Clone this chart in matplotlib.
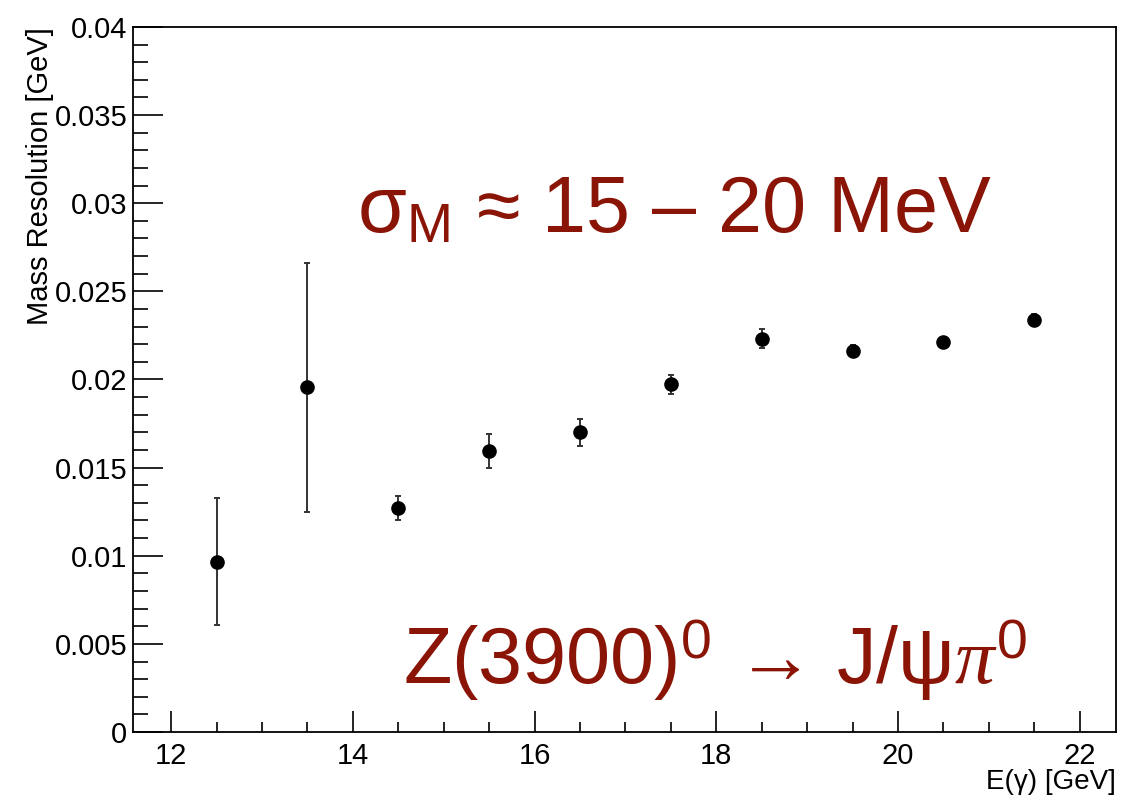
import matplotlib.pyplot as plt
from matplotlib.ticker import MultipleLocator

# data
e_gamma = [12.5, 13.5, 14.5, 15.5, 16.5, 17.5, 18.5, 19.5, 20.5, 21.5]
mass_res = [0.00963, 0.01955, 0.01269, 0.01592, 0.01700, 0.01972, 0.02232, 0.02164, 0.02215, 0.02340]
err_up = [0.00363, 0.00708, 0.00068, 0.00096, 0.00073, 0.00056, 0.00057, 0.00034, 0.00010, 0.00034]
err_dn = [0.00357, 0.00709, 0.00068, 0.00096, 0.00080, 0.00057, 0.00056, 0.00034, 0.00010, 0.00034]

x_ticks = [12, 14, 16, 18, 20, 22]
y_ticks = [0, 0.005, 0.01, 0.015, 0.02, 0.025, 0.03, 0.035, 0.04]
y_ticklabels = ["0", "0.005", "0.01", "0.015", "0.02", "0.025", "0.03", "0.035", "0.04"]

RED = "#8a1406"

plt.rcParams["font.family"] = ["Liberation Sans", "DejaVu Sans"]
plt.rcParams["mathtext.fontset"] = "custom"
plt.rcParams["mathtext.it"] = "Liberation Serif:italic"
plt.rcParams["mathtext.rm"] = "Liberation Sans"

fig = plt.figure(figsize=(11.41, 7.98), dpi=100)
ax = fig.add_axes([0.1166, 0.0827, 0.8615, 0.8835])

ax.errorbar(e_gamma, mass_res, yerr=[err_dn, err_up], fmt="o", color="black",
            ms=9.5, elinewidth=1.4, ecolor="#333333", capsize=2.5, capthick=1.4)

ax.set_xlim(11.58, 22.4)
ax.set_ylim(0, 0.04)

ax.set_xticks(x_ticks)
ax.set_xticklabels([str(t) for t in x_ticks])
ax.set_yticks(y_ticks)
ax.set_yticklabels(y_ticklabels)
ax.xaxis.set_minor_locator(MultipleLocator(0.5))
ax.yaxis.set_minor_locator(MultipleLocator(0.001))

ax.tick_params(which="both", direction="in", top=False, right=False, width=1.2)
ax.tick_params(labelsize=21)
ax.tick_params(axis="x", which="major", length=15, pad=7)
ax.tick_params(axis="x", which="minor", length=7.5)
ax.tick_params(axis="y", which="major", length=21.5, pad=4)
ax.tick_params(axis="y", which="minor", length=11)

for s in ax.spines.values():
    s.set_linewidth(1.3)

ax.set_ylabel("Mass Resolution [GeV]", fontsize=21)
ax.yaxis.set_label_coords(-0.08, 1.0)
ax.yaxis.label.set_horizontalalignment("right")
ax.set_xlabel("E(\u03b3) [GeV]", fontsize=20)
ax.xaxis.set_label_coords(1.0, -0.052)
ax.xaxis.label.set_horizontalalignment("right")

ax.text(0.228, 0.738, "\u03c3$_{\\mathrm{M}}$ \u2248 15 \u2013 20 MeV", transform=ax.transAxes,
        fontsize=57, color=RED, va="center", ha="left")
ax.text(0.275, 0.101, "Z(3900)$^{0}$ \u2192 J/\u03c8$\\mathit{\\pi}^{0}$", transform=ax.transAxes,
        fontsize=57, color=RED, va="center", ha="left")

fig.savefig("out.png", dpi=100)
